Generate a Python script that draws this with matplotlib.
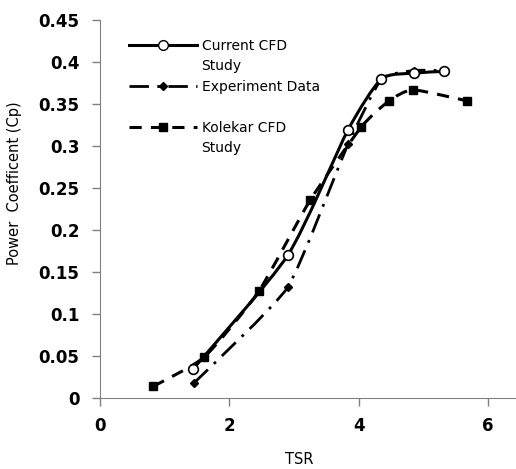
import matplotlib.pyplot as plt
import numpy as np
from matplotlib.path import Path
from matplotlib.patches import PathPatch
from matplotlib.lines import Line2D

# Current CFD study
tsr_cfd = [1.44, 2.9, 3.83, 4.35, 4.86, 5.32]
cp_cfd = [0.035, 0.17, 0.319, 0.38, 0.387, 0.389]

# Experiment data
tsr_exp = [1.45, 2.9, 3.83, 4.35, 4.86, 5.32]
cp_exp = [0.018, 0.132, 0.302, 0.38, 0.39, 0.39]

# Kolekar CFD study
tsr_kol = [0.82, 1.61, 2.45, 3.25, 4.04, 4.47, 4.84, 5.67]
cp_kol = [0.014, 0.049, 0.127, 0.236, 0.323, 0.354, 0.367, 0.354]

x_ticks = [0, 2, 4, 6]
y_ticks = [0, 0.05, 0.1, 0.15, 0.2, 0.25, 0.3, 0.35, 0.4, 0.45]


def smoothPath(xs, ys, k=0.1):
    # bezier smoothing like a spreadsheet "smoothed line"
    verts = [(xs[0], ys[0])]
    codes = [Path.MOVETO]
    n = len(xs)
    for i in range(n - 1):
        x0, y0 = (xs[i - 1], ys[i - 1]) if i > 0 else (xs[i], ys[i])
        x1, y1 = xs[i], ys[i]
        x2, y2 = xs[i + 1], ys[i + 1]
        x3, y3 = (xs[i + 2], ys[i + 2]) if i + 2 < n else (x2, y2)
        c1 = (x1 + (x2 - x0) * k, y1 + (y2 - y0) * k)
        c2 = (x2 - (x3 - x1) * k, y2 - (y3 - y1) * k)
        verts += [c1, c2, (x2, y2)]
        codes += [Path.CURVE4] * 3
    return Path(verts, codes)


exp_style = (0, (7, 3, 1, 3))
kol_style = (0, (4, 3))

fig = plt.figure(figsize=(5.16, 4.69), dpi=100)
ax = fig.add_axes([0.194, 0.151, 0.806, 0.806])

ax.add_patch(PathPatch(smoothPath(tsr_exp, cp_exp, 0.08), fill=False, lw=2,
                       color='black', linestyle=exp_style))
ax.plot(tsr_exp, cp_exp, linestyle='none', marker='D', ms=4,
        color='black')

ax.add_patch(PathPatch(smoothPath(tsr_kol, cp_kol, 0.1), fill=False, lw=2.2,
                       color='black', linestyle=kol_style))
ax.plot(tsr_kol, cp_kol, linestyle='none', marker='s', ms=6,
        color='black')

ax.add_patch(PathPatch(smoothPath(tsr_cfd, cp_cfd, 0.11), fill=False, lw=2.2,
                       color='black'))
ax.plot(tsr_cfd, cp_cfd, linestyle='none', marker='o', ms=7,
        mfc='white', mec='black', mew=1.2)

ax.set_xlim(0, 6.43)
ax.set_ylim(0, 0.45)
ax.set_xticks(x_ticks)
ax.set_yticks(y_ticks)
ax.set_xticklabels([str(t) for t in x_ticks], fontsize=12, fontweight='bold')
ax.set_yticklabels(['0'] + [f"{t:g}" for t in y_ticks[1:]], fontsize=12,
                   fontweight='bold')
ax.tick_params(axis='y', direction='out', length=6, color='#808080', width=1,
               pad=9)
ax.tick_params(axis='x', direction='out', length=5.5, color='#808080',
               width=1, pad=8)
for s in ['top', 'right']:
    ax.spines[s].set_visible(False)
for s in ['left', 'bottom']:
    ax.spines[s].set_color('#808080')
ax.set_xlabel('TSR', fontsize=10.5)
ax.set_ylabel('Power  Coefficent (Cp)', fontsize=10.5)
ax.xaxis.set_label_coords(0.48, -0.143)
ax.yaxis.set_label_coords(-0.188, 0.57)

blank = Line2D([], [], linestyle='none')
handles = [
    Line2D([], [], color='black', lw=2.2, marker='o', ms=7, mfc='white'),
    blank,
    Line2D([], [], color='black', lw=2, linestyle=exp_style,
           marker='D', ms=4),
    blank,
    Line2D([], [], color='black', lw=2.2, linestyle=kol_style,
           marker='s', ms=6),
    blank,
]
labels = ['Current CFD', 'Study', 'Experiment Data', ' ', 'Kolekar CFD',
          'Study']
ax.legend(handles, labels, loc='upper left', bbox_to_anchor=(0.057, 0.966),
          frameon=False, fontsize=10, handlelength=4.9, handletextpad=0.3,
          labelspacing=0.47, borderaxespad=0)

fig.savefig('out.png', dpi=100)
